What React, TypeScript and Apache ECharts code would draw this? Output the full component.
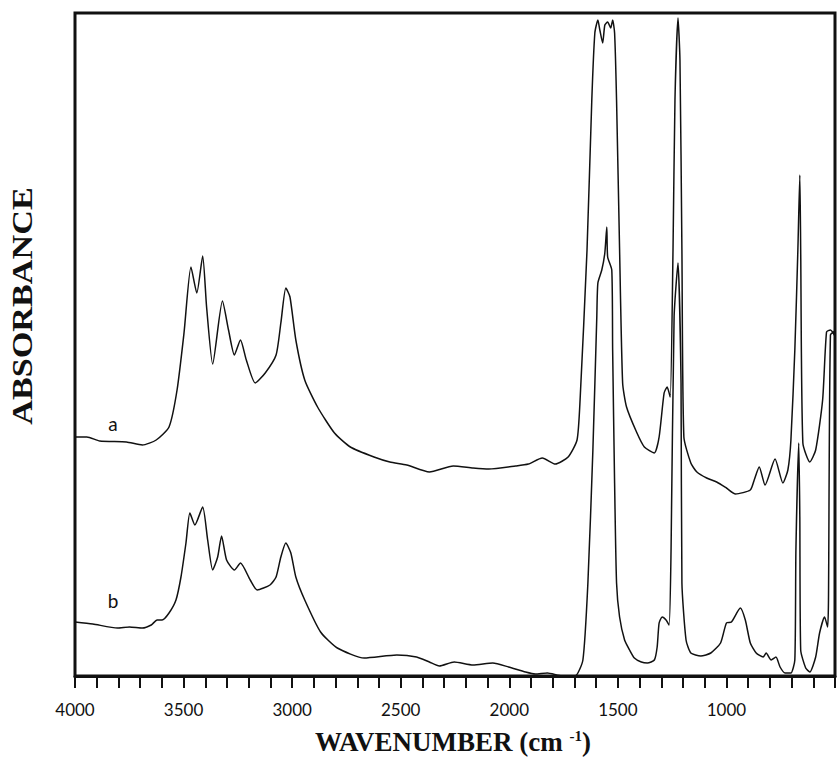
import React, { useEffect, useRef } from "react";
import * as echarts from "echarts";

// Wavenumber (cm-1) and absorbance (arbitrary units)
const aWavenumber = [4000,3945,3886,3763,3690,3626,3567,3530,3498,3466,3439,3412,3394,3366,3321,3293,3266,3238,3211,3170,3124,3074,3052,3029,3010,2983,2942,2883,2805,2732,2623,2550,2472,2368,2258,2167,2094,1971,1912,1848,1788,1729,1688,1674,1642,1620,1606,1592,1583,1570,1560,1547,1533,1524,1515,1506,1492,1478,1460,1414,1378,1332,1310,1287,1273,1259,1246,1237,1223,1214,1205,1196,1164,1136,1091,1045,1000,958,890,872,849,822,776,740,717,703,685,671,662,658,648,616,589,557,539,521,500];
const aAbsorbance = [239,239,235,234,231,236,249,286,343,409,383,420,369,312,375,346,321,336,316,293,303,321,353,388,379,336,296,269,243,229,219,214,211,204,210,208,207,210,212,218,212,219,236,276,426,576,643,656,646,633,651,654,648,656,643,576,426,293,269,244,229,223,239,283,289,279,426,576,658,616,426,239,213,204,198,194,188,182,186,196,209,191,217,193,206,236,326,426,501,426,233,214,226,276,344,346,340];

const bWavenumber = [4000,3918,3804,3749,3690,3649,3622,3599,3567,3535,3512,3489,3471,3448,3412,3389,3366,3343,3325,3302,3266,3238,3193,3161,3102,3074,3052,3029,3006,2983,2942,2869,2792,2668,2518,2427,2368,2322,2254,2167,2076,2003,1925,1880,1825,1756,1697,1661,1638,1615,1597,1592,1574,1560,1551,1547,1528,1524,1515,1506,1492,1469,1446,1424,1392,1364,1332,1319,1310,1296,1278,1264,1255,1241,1223,1209,1205,1186,1164,1118,1072,1027,1000,977,936,913,890,863,831,817,794,772,753,730,703,685,680,667,662,658,635,616,589,571,548,534,530,521,500];
const bAbsorbance = [54,52,48,49,48,51,56,56,63,76,99,133,163,151,169,136,106,119,140,116,106,113,96,86,91,99,119,133,123,99,76,44,28,18,21,19,14,10,14,11,13,9,4,2,3,0,0,16,93,226,359,393,406,423,449,419,406,326,193,93,59,36,26,18,14,13,16,29,53,59,56,51,126,359,413,293,93,36,23,20,23,33,53,54,68,56,33,23,19,23,16,19,9,3,3,16,126,233,159,26,8,4,19,43,59,49,76,341,345];

const tickLabels = [4000, 3500, 3000, 2500, 2000, 1500, 1000];
const seriesLabels = ["a", "b"];
const yTitle = "ABSORBANCE";
const xTitle = "WAVENUMBER (cm {sup|-1})";

export default function App() {
  const ref = useRef<HTMLDivElement>(null);
  useEffect(() => {
    if (!ref.current) return;
    const chart = echarts.init(ref.current, null, { renderer: "svg" });
    const ink = "#111";
    const option = {
      animation: false,
      backgroundColor: "#ffffff",
      grid: {
        left: 75, right: -5, top: 13, bottom: 81,
        show: true, borderColor: ink, borderWidth: 3, backgroundColor: "transparent",
      },
      xAxis: {
        type: "value", inverse: true, min: 500, max: 4000, interval: 500,
        axisLine: { show: true, lineStyle: { color: ink, width: 3 } },
        axisTick: { show: true, length: 12, lineStyle: { color: ink, width: 2 } },
        minorTick: { show: true, splitNumber: 5, length: 12, lineStyle: { color: ink, width: 2 } },
        splitLine: { show: false },
        minorSplitLine: { show: false },
        axisLabel: {
          margin: 25, color: ink, fontSize: 17, fontFamily: "Lato",
          formatter: (v: number) => (tickLabels.includes(v) ? String(v) : ""),
        },
      },
      yAxis: { type: "value", min: 0, max: 663, show: false },
      series: [
        {
          name: "a", type: "line", showSymbol: false, symbol: "none", smooth: 0.2,
          lineStyle: { color: ink, width: 1.5 },
          data: aWavenumber.map((w, i) => [w, aAbsorbance[i]]),
        },
        {
          name: "b", type: "line", showSymbol: false, symbol: "none", smooth: 0.2,
          lineStyle: { color: ink, width: 1.5 },
          data: bWavenumber.map((w, i) => [w, bAbsorbance[i]]),
        },
      ],
      graphic: [
        {
          type: "text", x: 22, y: 306, rotation: Math.PI / 2, scaleX: 1.14,
          style: {
            text: yTitle, fill: ink, fontSize: 30, fontWeight: "bold",
            fontFamily: "Liberation Serif", align: "center", verticalAlign: "middle",
          },
        },
        {
          type: "text", x: 315, y: 742,
          style: {
            text: xTitle, fill: ink, fontSize: 27, fontWeight: "bold",
            fontFamily: "Liberation Serif", align: "left", verticalAlign: "middle",
            rich: {
              sup: { fontSize: 15, fontWeight: "bold", fontFamily: "Liberation Serif", verticalAlign: "top", padding: [0, 0, 10, 0] },
            },
          },
        },
        {
          type: "text", x: 113, y: 423,
          style: { text: seriesLabels[0], fill: ink, fontSize: 19, fontFamily: "Lato", align: "center", verticalAlign: "middle" },
        },
        {
          type: "text", x: 113, y: 600,
          style: { text: seriesLabels[1], fill: ink, fontSize: 19, fontFamily: "Lato", align: "center", verticalAlign: "middle" },
        },
      ],
    };
    chart.setOption(option as any);
    return () => chart.dispose();
  }, []);
  return (
    <div
      ref={ref}
      style={{ position: "fixed", left: 0, top: 0, width: 838, height: 757 }}
    />
  );
}
